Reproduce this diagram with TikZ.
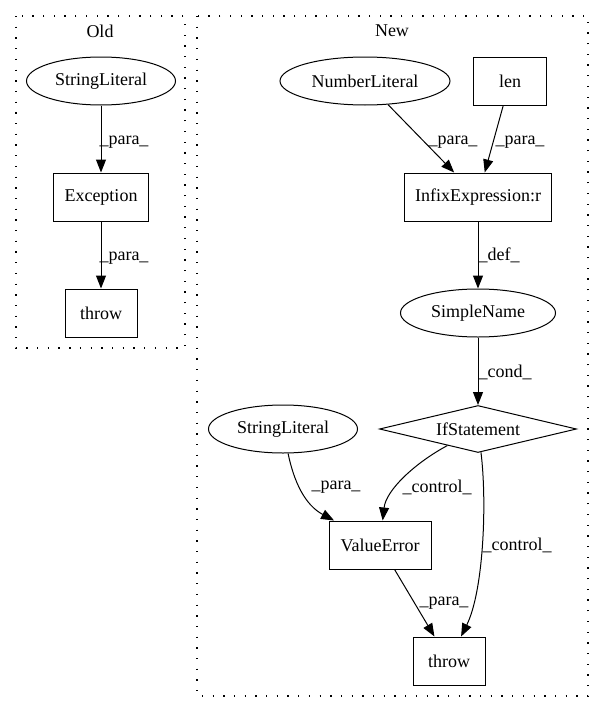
\documentclass[tikz,border=0pt]{standalone}
\usepackage{fontspec}
\setmainfont{Liberation Serif}
\usetikzlibrary{shapes.geometric,arrows.meta}
\tikzset{
  gfont/.style={font=\fontsize{18pt}{21pt}\selectfont},
  box/.style={draw, rectangle, line width=1pt, minimum height=48pt, inner sep=0pt, gfont},
  ell/.style={draw, ellipse, line width=1pt, minimum height=48pt, inner sep=0pt, gfont},
  dia/.style={draw, diamond, aspect=4.2, line width=1pt, inner sep=0pt, gfont},
  arr/.style={-{Triangle[length=13pt,width=10pt]}, line width=1pt},
  lbl/.style={inner sep=0pt, gfont},
  cluster/.style={draw, line width=1.3pt, dash pattern=on 1.3pt off 9.4pt}
}
\begin{document}
\begin{tikzpicture}[x=1pt,y=-1pt]
\useasboundingbox (0,0) rectangle (604,712);
% clusters
\draw[cluster] (16,16) rectangle (185,348);
\draw[cluster] (197,16) rectangle (588,696);
\node[lbl] (oldlbl) at (100,31) {Old};
\node[lbl] (newlbl) at (392,31) {New};
% old nodes
\node[ell, minimum width=149pt] (osl) at (101,81) {StringLiteral};
\node[box, minimum width=95pt] (oex) at (101,197) {Exception};
\node[box, minimum width=72pt] (oth) at (101,313) {throw};
% new nodes
\node[ell, minimum width=170pt] (num) at (365,81) {NumberLiteral};
\node[box, minimum width=73pt] (len) at (510,81) {len};
\node[box, minimum width=147pt] (inf) at (478,197) {InfixExpression:r};
\node[ell, minimum width=155pt] (sn) at (478,313) {SimpleName};
\node[dia, minimum width=197pt, minimum height=47pt] (ifs) at (478,429) {IfStatement};
\node[ell, minimum width=149pt] (nsl) at (283,429) {StringLiteral};
\node[box, minimum width=102pt] (ve) at (380,545) {ValueError};
\node[box, minimum width=72pt] (nth) at (449,661) {throw};
% edges
\draw[arr] (osl) -- (oex);
\draw[arr] (oex) -- (oth);
\draw[arr] (num) -- (inf);
\draw[arr] (len) -- (inf);
\draw[arr] (inf) -- (sn);
\draw[arr] (sn) -- (ifs);
\draw[arr] (nsl) .. controls (294,482) and (305,505) .. (ve);
\draw[arr] (ifs) .. controls (415,463) and (386,490) .. (ve);
\draw[arr] (ifs) .. controls (487,500) and (484,590) .. (nth);
\draw[arr] (ve) -- (nth);
% edge labels
\node[lbl] (l1) at (124,142) {\_para\_};
\node[lbl] (l2) at (124,258) {\_para\_};
\node[lbl] (l3) at (453,142) {\_para\_};
\node[lbl] (l4) at (520,142) {\_para\_};
\node[lbl] (l5) at (499,255) {\_def\_};
\node[lbl] (l6) at (505,372) {\_cond\_};
\node[lbl] (l7) at (336,487) {\_para\_};
\node[lbl] (l8) at (437,487) {\_control\_};
\node[lbl] (l9) at (517,545) {\_control\_};
\node[lbl] (l10) at (444,603) {\_para\_};
\end{tikzpicture}
\end{document}
